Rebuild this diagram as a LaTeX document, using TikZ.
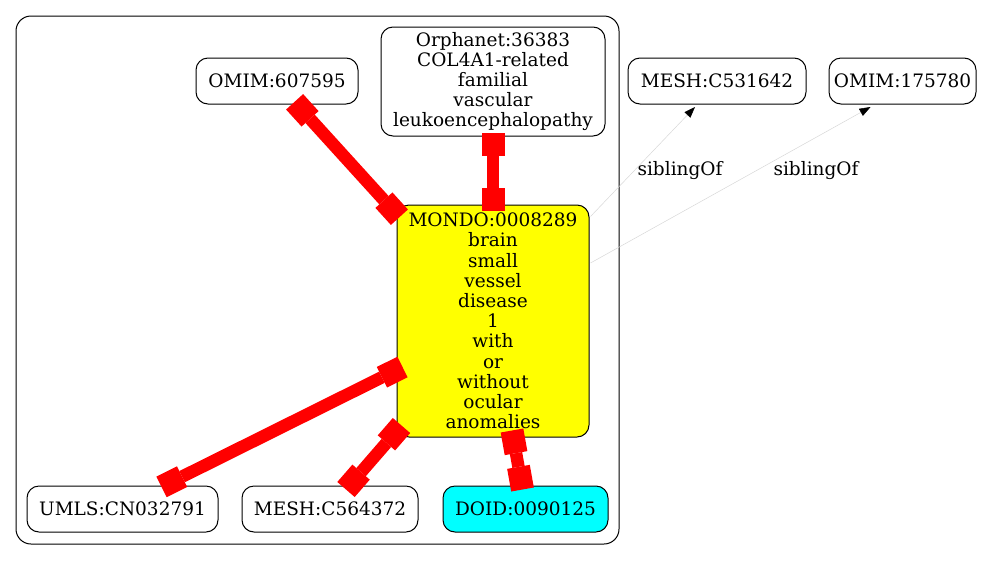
\documentclass[tikz,border=0pt]{standalone}
\usepackage{fontspec}
\setmainfont{DejaVu Serif}
\usetikzlibrary{arrows.meta,calc}
\definecolor{gvyellow}{RGB}{255,255,0}
\definecolor{gvcyan}{RGB}{0,255,255}
\definecolor{gvred}{RGB}{255,0,0}
\definecolor{gvthin}{RGB}{215,215,215}
\begin{document}
\begin{tikzpicture}[x=1pt,y=-1pt,
 nd/.style={draw,rounded corners=12pt,line width=1pt,align=center,inner sep=0pt,font=\fontsize{18.5pt}{20.2pt}\selectfont},
 rel/.style={draw=gvred,line width=12.5pt,{Square[length=23pt,width=23pt,line width=0pt,color=gvred]}-{Square[length=23pt,width=23pt,line width=0pt,color=gvred]}},
 sib/.style={draw=gvthin,line width=0.5pt,-{Triangle[length=11pt,width=8pt,color=black]}},
 lab/.style={font=\fontsize{18.5pt}{20.2pt}\selectfont,inner sep=0pt}]
\useasboundingbox (0,0) rectangle (995,560);
\draw[line width=1pt,rounded corners=15pt] (16,16) rectangle (619,544);
\node[nd,minimum width=162pt,minimum height=46pt] (omimA) at (277,81) {OMIM:607595};
\node[nd,minimum width=224pt,minimum height=109pt] (orph) at (493,81.5) {Orphanet:36383\\COL4A1-related\\familial\\vascular\\leukoencephalopathy};
\node[nd,fill=gvyellow,minimum width=192pt,minimum height=232pt] (mondo) at (493,321) {MONDO:0008289\\brain\\small\\vessel\\disease\\1\\with\\or\\without\\ocular\\anomalies};
\node[nd,minimum width=178pt,minimum height=46pt] (meshA) at (717,81) {MESH:C531642};
\node[nd,minimum width=147pt,minimum height=46pt] (omimB) at (902.5,81) {OMIM:175780};
\node[nd,minimum width=191pt,minimum height=46pt] (umls) at (122.5,509) {UMLS:CN032791};
\node[nd,minimum width=176pt,minimum height=46pt] (meshB) at (330,509) {MESH:C564372};
\node[nd,fill=gvcyan,minimum width=165pt,minimum height=46pt] (doid) at (525.5,509) {DOID:0090125};
\draw[rel] ($(omimA.south)+(17.6,-2.7)$) -- ($(mondo.north west)+(2.9,12.7)$);
\draw[rel] ($(orph.south)+(0,-4)$) -- ($(mondo.north)+(0,6)$);
\draw[rel] ($(mondo.west)+(6,46)$) -- ($(umls.north)+(39,1.4)$);
\draw[rel] ($(mondo.south west)+(5,-12)$) -- ($(meshB.north)+(16,4)$);
\draw[rel] ($(mondo.south)+(19,-7)$) -- ($(doid.north)+(-3,4)$);
\draw[sib] ($(mondo.north east)+(1,12)$) -- ($(meshA.south)+(-22,2.5)$);
\draw[sib] ($(mondo.east)+(1,-58)$) -- ($(omimB.south)+(-32,2.5)$);
\node[lab] (l1) at (680,171) {siblingOf};
\node[lab] (l2) at (816,171) {siblingOf};
\end{tikzpicture}
\end{document}
